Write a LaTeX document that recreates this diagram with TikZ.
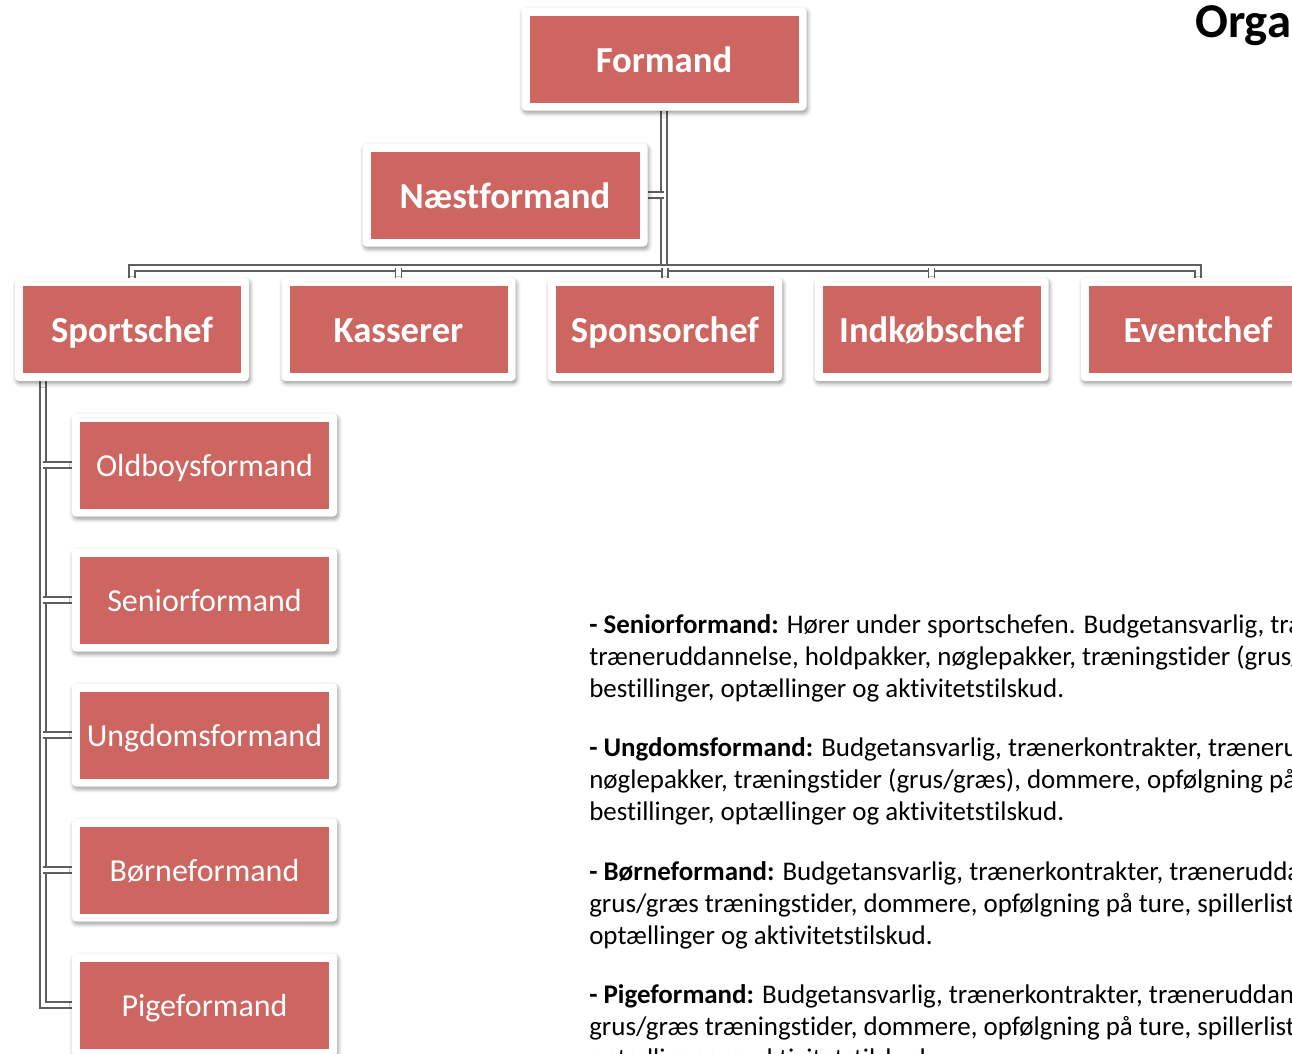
\documentclass[tikz,border=0pt]{standalone}
\usepackage{fontspec}
\setmainfont{Carlito}[Ligatures=NoCommon]
\usepackage{tikz}
\usetikzlibrary{shadows.blur, backgrounds}
\definecolor{boxred}{RGB}{205,101,96}
\definecolor{linegray}{RGB}{95,95,95}

\begin{document}
\begin{tikzpicture}[x=0.75pt, y=-0.75pt,
  orgbox/.style={rectangle, fill=white, rounded corners=3pt, inner sep=0pt,
    minimum height=77.25pt, text=white,
    blur shadow={shadow xshift=1pt, shadow yshift=-2pt, shadow blur radius=3pt, shadow opacity=40},
    path picture={\fill[boxred, sharp corners] ([shift={(6pt,6pt)}]path picture bounding box.south west)
      rectangle ([shift={(-6pt,-6pt)}]path picture bounding box.north east);}},
  topbox/.style={orgbox, minimum width=213.75pt, text height=24pt, text depth=4pt,
    font=\bfseries\fontsize{27.5}{30}\selectfont},
  chief/.style={orgbox, minimum width=175.5pt, text height=24pt, text depth=4pt,
    font=\bfseries\fontsize{27.5}{30}\selectfont},
  subbox/.style={orgbox, minimum width=198.75pt, text height=21.5pt, text depth=4pt,
    font=\fontsize{24}{28}\selectfont},
  conn/.style={draw=linegray, line width=1.1pt, double=white, double distance=3.2pt},
  info/.style={anchor=base west, inner sep=0pt, font=\fontsize{20.2}{24}\selectfont}]
  \useasboundingbox (0,0) rectangle (1292,1053);
  \clip (0,0) rectangle (1292,1053);

  \node[anchor=base west, inner sep=0pt, font=\bfseries\fontsize{36.5}{40}\selectfont] (title) at (1195,37) {Organisation};

  \node[topbox] (formand) at (664,59) {Formand};
  \node[topbox] (naest) at (505,195) {Næstformand};
  \foreach \name/\lab [count=\i from 0] in {sport/Sportschef, kasse/Kasserer, sponsor/Sponsorchef, indkob/Indkøbschef, event/Eventchef}
    \node[chief] (\name) at (132+266.5*\i,329.5) {\lab};
  \foreach \name/\lab [count=\i from 0] in {oldboys/Oldboysformand, senior/Seniorformand, ungdom/Ungdomsformand, boerne/Børneformand, pige/Pigeformand}
    \node[subbox] (\name) at (204.5,465+135*\i) {\lab};

  \begin{scope}[on background layer]
    \coordinate (bus) at (0,268);
    \coordinate (spine) at (43,381);
    \draw[conn] (formand.south) -- (formand.south |- bus);
    \draw[conn] (naest.east) -- (naest.east -| formand.south);
    \draw[conn] (sport.north) -- (sport.north |- bus) -- (event.north |- bus) -- (event.north);
    \foreach \name in {kasse, sponsor, indkob}
      \draw[conn] (\name.north) -- (\name.north |- bus);
    \draw[conn] (spine) |- (pige.west);
    \foreach \name in {oldboys, senior, ungdom, boerne}
      \draw[conn] (spine |- \name.west) -- (\name.west);
  \end{scope}

  \node[info] (seniortxt) at (589,633) {\parbox[t]{40cm}{\textbf{- Seniorformand:} Hører under sportschefen. Budgetansvarlig, trænerkontrakter,\\
    træneruddannelse, holdpakker, nøglepakker, træningstider (grus/græs),\\
    bestillinger, optællinger og aktivitetstilskud.}};
  \node[info] (ungdomtxt) at (589,756) {\parbox[t]{40cm}{\textbf{- Ungdomsformand:} Budgetansvarlig, trænerkontrakter, træneruddannelse,\\
    nøglepakker, træningstider (grus/græs), dommere, opfølgning på\\
    bestillinger, optællinger og aktivitetstilskud.}};
  \node[info] (boernetxt) at (589,880) {\parbox[t]{40cm}{\textbf{- Børneformand:} Budgetansvarlig, trænerkontrakter, træneruddannelse,\\
    grus/græs træningstider, dommere, opfølgning på ture, spillerlister,\\
    optællinger og aktivitetstilskud.}};
  \node[info] (pigetxt) at (589,1003) {\parbox[t]{40cm}{\textbf{- Pigeformand:} Budgetansvarlig, trænerkontrakter, træneruddannelse,\\
    grus/græs træningstider, dommere, opfølgning på ture, spillerlister,\\
    optællinger og aktivitetstilskud.}};
\end{tikzpicture}
\end{document}
